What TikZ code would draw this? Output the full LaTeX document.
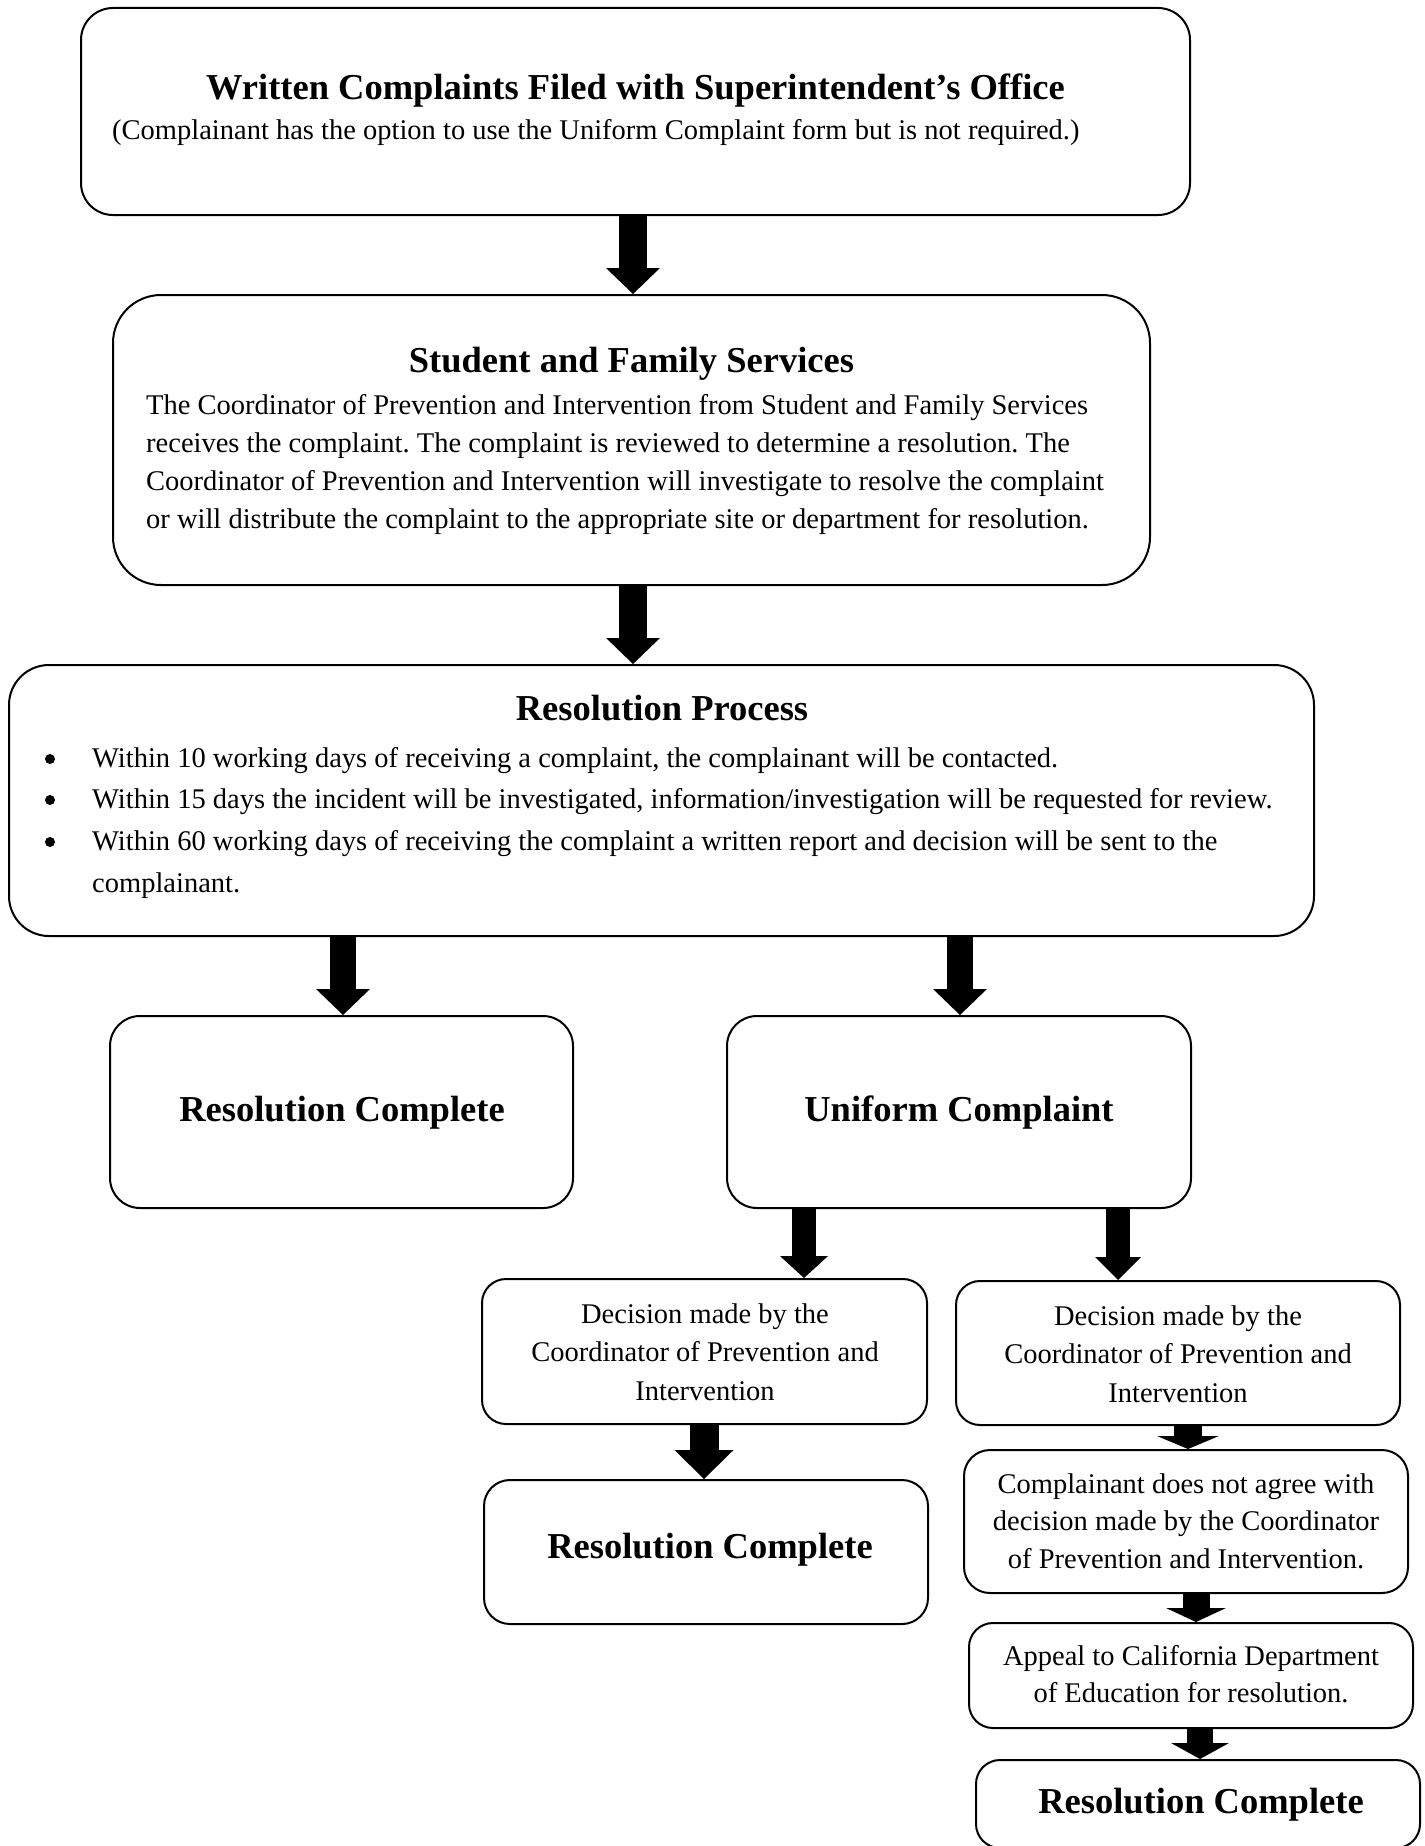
\documentclass[tikz,border=0pt]{standalone}
\usepackage{fontspec}
\setmainfont{Liberation Serif}
\usetikzlibrary{arrows.meta}
\frenchspacing
\begin{document}
\begin{tikzpicture}[x=1pt,y=-1pt,
  box/.style={draw=black,line width=2pt,rectangle,inner sep=0pt},
  ttl/.style={anchor=base,font=\fontsize{36.5}{44}\selectfont\bfseries,inner sep=0pt},
  txt/.style={anchor=base,font=\fontsize{28.5}{34}\selectfont,inner sep=0pt},
  txtl/.style={txt,anchor=base west},
  dot/.style={circle,fill=black,inner sep=0pt,minimum size=10pt},
  blk/.style n args={3}{line width=#1pt,-{Triangle[width=#2pt 0 0,length=#3pt 0 0,line width=0pt]}}]
\useasboundingbox (0,0) rectangle (1424,1846);
% boxes
\node[box,rounded corners=32pt,minimum width=1109pt,minimum height=207pt] (b1) at (635.5,111.5) {};
\node[box,rounded corners=48pt,minimum width=1037pt,minimum height=290pt] (b2) at (631.5,440) {};
\node[box,rounded corners=40pt,minimum width=1305pt,minimum height=271pt] (b3) at (661.5,800.5) {};
\node[box,rounded corners=30pt,minimum width=463pt,minimum height=192pt] (b4) at (341.5,1112) {};
\node[box,rounded corners=30pt,minimum width=464pt,minimum height=192pt] (b5) at (959,1112) {};
\node[box,rounded corners=24pt,minimum width=445pt,minimum height=145pt] (b6) at (704.5,1351.5) {};
\node[box,rounded corners=24pt,minimum width=444pt,minimum height=144pt] (b7) at (1178,1353) {};
\node[box,rounded corners=26pt,minimum width=444pt,minimum height=144pt] (b8) at (706,1552) {};
\node[box,rounded corners=26pt,minimum width=444pt,minimum height=143pt] (b9) at (1186,1521.5) {};
\node[box,rounded corners=24pt,minimum width=444pt,minimum height=105pt] (b10) at (1191,1675.5) {};
\node[box,rounded corners=24pt,minimum width=444pt,minimum height=88pt] (b11) at (1198,1804) {};
% texts
\node[ttl] (t1) at (635.5,100) {Written Complaints Filed with Superintendent’s Office};
\node[txtl] (s1) at (112,140) {(Complainant has the option to use the Uniform Complaint form but is not required.)};
\node[ttl] (t2) at (631.5,372) {Student and Family Services};
\node[txtl] (l21) at (146,414) {The Coordinator of Prevention and Intervention from Student and Family Services};
\node[txtl] (l22) at (146,452) {receives the complaint. The complaint is reviewed to determine a resolution. The};
\node[txtl] (l23) at (146,490) {Coordinator of Prevention and Intervention will investigate to resolve the complaint};
\node[txtl] (l24) at (146,528) {or will distribute the complaint to the appropriate site or department for resolution.};
\node[ttl] (t3) at (662,720) {Resolution Process};
\node[dot] (d1) at (50,759) {};
\node[dot] (d2) at (50,800) {};
\node[dot] (d3) at (50,842) {};
\node[txtl] (l31) at (92,767) {Within 10 working days of receiving a complaint, the complainant will be contacted.};
\node[txtl] (l32) at (92,808) {Within 15 days the incident will be investigated, information/investigation will be requested for review.};
\node[txtl] (l33) at (92,850) {Within 60 working days of receiving the complaint a written report and decision will be sent to the};
\node[txtl] (l34) at (92,892) {complainant.};
\node[ttl] (t4) at (342,1121) {Resolution Complete};
\node[ttl] (t5) at (959,1121) {Uniform Complaint};
\node[txt] (l61) at (705,1323) {Decision made by the};
\node[txt] (l62) at (705,1361) {Coordinator of Prevention and};
\node[txt] (l63) at (705,1400) {Intervention};
\node[txt] (l71) at (1178,1325) {Decision made by the};
\node[txt] (l72) at (1178,1363) {Coordinator of Prevention and};
\node[txt] (l73) at (1178,1402) {Intervention};
\node[ttl] (t8) at (710,1558) {Resolution Complete};
\node[txt] (l91) at (1186,1493) {Complainant does not agree with};
\node[txt] (l92) at (1186,1530) {decision made by the Coordinator};
\node[txt] (l93) at (1186,1568) {of Prevention and Intervention.};
\node[txt] (l101) at (1191,1665) {Appeal to California Department};
\node[txt] (l102) at (1191,1702) {of Education for resolution.};
\node[ttl] (t11) at (1201,1813) {Resolution Complete};
% arrow columns
\coordinate (xa) at (633,0);
\coordinate (xb) at (343,0);
\coordinate (xc) at (960,0);
\coordinate (xd) at (804,0);
\coordinate (xe) at (1118,0);
\coordinate (xf) at (704,0);
\coordinate (xg) at (1188,0);
\coordinate (xh) at (1196,0);
\coordinate (xi) at (1200,0);
% arrows
\draw[blk={28}{54}{26}] (b1.south -| xa) -- (b2.north -| xa);
\draw[blk={28}{54}{26}] (b2.south -| xa) -- (b3.north -| xa);
\draw[blk={26}{54}{26}] (b3.south -| xb) -- (b4.north -| xb);
\draw[blk={26}{54}{26}] (b3.south -| xc) -- (b5.north -| xc);
\draw[blk={24}{48}{22}] (b5.south -| xd) -- (b6.north -| xd);
\draw[blk={24}{46}{23}] (b5.south -| xe) -- (b7.north -| xe);
\draw[blk={29}{59}{29}] (b6.south -| xf) -- (b8.north -| xf);
\draw[blk={28}{62}{13}] (b7.south -| xg) -- (b9.north -| xg);
\draw[blk={27}{60}{14}] (b9.south -| xh) -- (b10.north -| xh);
\draw[blk={26}{58}{16}] (b10.south -| xi) -- (b11.north -| xi);
\end{tikzpicture}
\end{document}
